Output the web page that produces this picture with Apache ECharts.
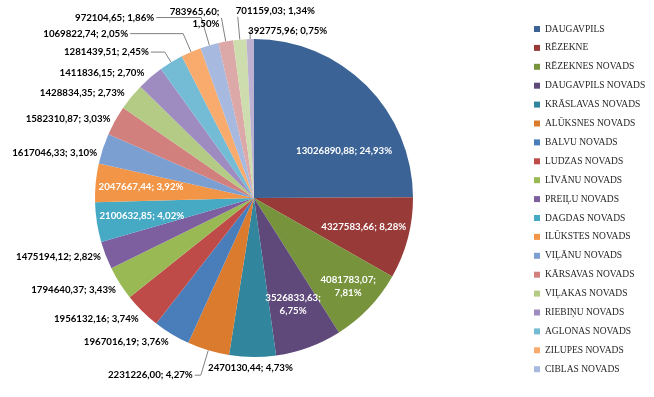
<!DOCTYPE html>
<html>
<head>
<meta charset="utf-8">
<script src="https://cdn.jsdelivr.net/npm/echarts@6/dist/echarts.min.js"></script>
<style>
  html, body { margin: 0; padding: 0; background: #fff; }
  #chart { width: 654px; height: 397px; }
</style>
</head>
<body>
<div id="chart"></div>
<script>
// pašvaldību vērtības (nolasītas no attēla)
var names = ['DAUGAVPILS', 'RĒZEKNE', 'RĒZEKNES NOVADS', 'DAUGAVPILS NOVADS', 'KRĀSLAVAS NOVADS',
    'ALŪKSNES NOVADS', 'BALVU NOVADS', 'LUDZAS NOVADS', 'LĪVĀNU NOVADS', 'PREIĻU NOVADS',
    'DAGDAS NOVADS', 'ILŪKSTES NOVADS', 'VIĻĀNU NOVADS', 'KĀRSAVAS NOVADS', 'VIĻAKAS NOVADS',
    'RIEBIŅU NOVADS', 'AGLONAS NOVADS', 'ZILUPES NOVADS', 'CIBLAS NOVADS',
    'VĀRKAVAS NOVADS', 'RUGĀJU NOVADS', 'BALTINAVAS NOVADS'];
var values = [13026890.88, 4327583.66, 4081783.07, 3526833.63, 2470130.44,
    2231226.00, 1967016.19, 1956132.16, 1794640.37, 1475194.12,
    2100632.85, 2047667.44, 1617046.33, 1582310.87, 1428834.35,
    1411836.15, 1281439.51, 1069822.74, 972104.65,
    783965.60, 701159.03, 392775.96];
// leģendā redzami tikai pirmie 19
var legendNames = names.slice(0, 19);

var colors = ['#3b6396', '#983a38', '#77933c', '#5f497a', '#31859c', '#db7b2e',
    '#4a7ebb', '#be4b48', '#98b954', '#7d5fa0', '#46aac5', '#f39547',
    '#7c9fd2', '#d1807e', '#b3cb85', '#9e8bbf', '#74bcd5', '#f9ab6e',
    '#a7b9de', '#dca9a8', '#cdddae', '#bdb1d2'];

var insideIdx = [0, 1, 2, 3, 10, 11];   // balti teksti sektorā
var wrapIdx = [2, 3, 19];               // divās rindās
var lineIdx = [5, 16, 17, 18, 19, 20, 21]; // ar līniju
// līnijas garumi ārējiem tekstiem [length, length2]
var lineLen = {
    4: [11, 0], 5: [26, 6], 6: [2, 0], 7: [2, 0], 8: [2, 0], 9: [3, 0],
    12: [4, 0], 13: [3, 0], 14: [6, 0], 15: [6, 0], 16: [12, 14],
    17: [20, 53], 18: [29, 45], 19: [24, 0], 20: [23, 0], 21: [8, 0]
};
var alignOverride = {
    4: { align: 'center' },
    6: { verticalAlign: 'top' },
    7: { verticalAlign: 'top' },
    8: { verticalAlign: 'top' },
    12: { verticalAlign: 'top' },
    20: { align: 'left', verticalAlign: 'bottom' },
    21: { align: 'left' }
};
// iekšējo tekstu nobīde
var innerShift = {
    0: { dx: 10, dy: 33 },
    2: { dx: 12, dy: 10 }
};

var total = 0;
values.forEach(function(v) { total += v; });

function fmtLabel(p) {
    var v = p.value.toFixed(2).replace('.', ',');
    var pc = (p.value / total * 100).toFixed(2).replace('.', ',') + '%';
    return v + ';' + (wrapIdx.indexOf(p.dataIndex) >= 0 ? '\n' : ' ') + pc;
}

var labelFont = {
    fontFamily: 'Lato',
    fontWeight: 'bold',
    fontSize: 9.7
};

var mainData = [], innerData = [];
for (var i = 0; i < names.length; i++) {
    var inside = insideIdx.indexOf(i) >= 0;
    var ll = lineLen[i] || [6, 0];
    mainData.push({
        name: names[i],
        value: values[i],
        itemStyle: { color: colors[i] },
        label: { show: !inside },
        labelLine: { show: lineIdx.indexOf(i) >= 0, length: ll[0], length2: ll[1] }
    });
    innerData.push({
        name: names[i],
        value: values[i],
        itemStyle: { color: 'rgba(0,0,0,0)' },
        label: { show: inside }
    });
}

var myChart = echarts.init(document.getElementById('chart'));
myChart.setOption({
    animation: false,
    color: colors,
    legend: {
        orient: 'vertical',
        left: 529,
        top: 18,
        data: legendNames,
        icon: 'rect',
        itemWidth: 6,
        itemHeight: 6,
        itemGap: 6.9,
        textStyle: {
            fontFamily: 'Liberation Serif',
            fontSize: 9.5,
            color: '#262626',
            lineHeight: 12
        }
    },
    series: [{
        type: 'pie',
        center: [254, 198],
        radius: [0, 159],
        clockwise: true,
        startAngle: 90,
        avoidLabelOverlap: false,
        data: mainData,
        label: {
            position: 'outside',
            formatter: fmtLabel,
            color: '#000',
            fontFamily: labelFont.fontFamily,
            fontWeight: labelFont.fontWeight,
            fontSize: labelFont.fontSize,
            lineHeight: 12,
            distanceToLabelLine: 2
        },
        labelLine: {
            lineStyle: { color: '#808080', width: 1 }
        },
        labelLayout: function(params) {
            return alignOverride[params.dataIndex] || {};
        },
        emphasis: { disabled: true }
    }, {
        type: 'pie',
        center: [254, 198],
        radius: [62, 159],
        startAngle: 90,
        silent: true,
        data: innerData,
        label: {
            position: 'inside',
            formatter: fmtLabel,
            color: '#fff',
            fontFamily: labelFont.fontFamily,
            fontWeight: labelFont.fontWeight,
            fontSize: labelFont.fontSize,
            lineHeight: 13
        },
        labelLine: { show: false },
        labelLayout: function(params) {
            return innerShift[params.dataIndex] || {};
        },
        emphasis: { disabled: true }
    }]
});
</script>
</body>
</html>
